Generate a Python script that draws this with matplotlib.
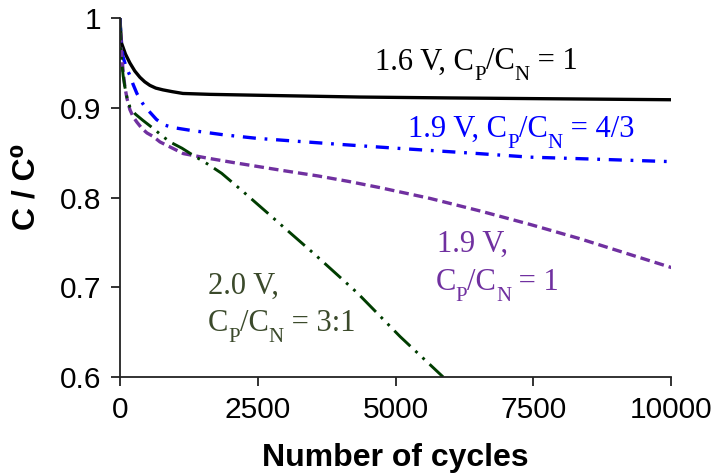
import matplotlib
matplotlib.use('Agg')
import matplotlib.pyplot as plt

# cycle-life data
cycles_16 = [0, 15, 30, 100, 181, 270, 363, 450, 544, 650, 780, 950, 1143, 1633, 2500, 4355, 6000, 8000, 10000]
cap_16 = [1.0, 0.985, 0.972, 0.960, 0.950, 0.941, 0.934, 0.929, 0.925, 0.922, 0.920, 0.918, 0.916, 0.915,
          0.914, 0.912, 0.911, 0.910, 0.909]

cycles_19b = [0, 20, 55, 110, 181, 240, 308, 380, 454, 560, 663, 800, 962, 1270, 1870, 2480, 3146, 4047,
              5000, 6500, 7441, 8500, 10000]
cap_19b = [1.0, 0.975, 0.957, 0.946, 0.936, 0.926, 0.916, 0.908, 0.901, 0.894, 0.887, 0.881, 0.878, 0.875,
           0.870, 0.866, 0.863, 0.859, 0.855, 0.849, 0.845, 0.843, 0.840]

cycles_19 = [0, 10, 30, 60, 91, 130, 181, 240, 308, 400, 490, 605, 726, 1149, 1579, 2057, 2964, 3600, 4144,
             4719, 5626, 6534, 7441, 8348, 10000]
cap_19 = [1.0, 0.985, 0.961, 0.940, 0.923, 0.910, 0.898, 0.890, 0.884, 0.877, 0.872, 0.868, 0.862, 0.849,
          0.844, 0.839, 0.830, 0.824, 0.818, 0.811, 0.799, 0.785, 0.770, 0.754, 0.722]

cycles_20 = [0, 10, 30, 60, 91, 130, 181, 280, 417, 605, 800, 938, 1125, 1331, 1600, 1845, 2208, 2692, 3025,
             3509, 4301, 5082, 5862]
cap_20 = [1.0, 0.975, 0.953, 0.935, 0.923, 0.911, 0.901, 0.893, 0.886, 0.877, 0.867, 0.861, 0.855, 0.847,
          0.837, 0.827, 0.808, 0.782, 0.764, 0.738, 0.694, 0.645, 0.6]

x_ticks = [0, 2500, 5000, 7500, 10000]
y_ticks = [0.6, 0.7, 0.8, 0.9, 1.0]
y_ticklabels = ['0.6', '0.7', '0.8', '0.9', '1']

plt.rcParams['font.family'] = ['Liberation Sans', 'DejaVu Sans']
plt.rcParams['lines.scale_dashes'] = False

fig = plt.figure(figsize=(7.18, 4.76), dpi=100)
ax = fig.add_axes([0.167, 0.208, 0.768, 0.754])

ax.plot(cycles_16, cap_16, color='black', lw=2.4, solid_joinstyle='round')
ax.plot(cycles_19b, cap_19b, color='#0000ff', lw=2.4, linestyle=(0, (9.4, 6.3, 2, 6.3)))
ax.plot(cycles_19, cap_19, color='#7030a0', lw=2.4, linestyle=(0, (7, 3.6)))
ax.plot(cycles_20, cap_20, color='#003d00', lw=2.1, linestyle=(0, (16, 5, 2, 5, 2, 5)))

ax.set_xlim(0, 10000)
ax.set_ylim(0.6, 1.0)
ax.set_xticks(x_ticks)
ax.set_xticklabels([str(t) for t in x_ticks])
ax.set_yticks(y_ticks)
ax.set_yticklabels(y_ticklabels)

for s in ['top', 'right']:
    ax.spines[s].set_visible(False)
for s in ['left', 'bottom']:
    ax.spines[s].set_linewidth(1.3)
    ax.spines[s].set_color('#222222')
ax.tick_params(direction='out', length=6.5, width=1.3, color='#222222',
               labelsize=21.5, pad=7)

ax.set_xlabel('Number of cycles', fontsize=23, fontweight='bold')
ax.set_ylabel('C / C\u2070', fontsize=23, fontweight='bold')
ax.xaxis.set_label_coords(0.5, -0.185)
ax.yaxis.set_label_coords(-0.143, 0.53)

SERIF = 'Liberation Serif'
BIG = 22
SMALL = 15
DROP = 6.5  # points the subscript sits below the main baseline


def label(x, y, before, after, color):
    # "<before>C_P/C_N<after>" with real lowered subscripts
    pieces = [(before + 'C', BIG, 0), ('P', SMALL, -DROP), ('/C', BIG, DROP),
              ('N', SMALL, -DROP), (after, BIG, DROP)]
    prev = ax.text(x, y, pieces[0][0], family=SERIF, fontsize=BIG, color=color,
                   va='bottom', ha='left')
    for txt, size, dy in pieces[1:]:
        prev = ax.annotate(txt, xy=(1, 0), xycoords=prev, xytext=(0, dy),
                           textcoords='offset points', family=SERIF, fontsize=size,
                           color=color, va='bottom', ha='left')


label(4628, 0.935, '1.6 V, ', ' = 1', 'black')
label(5227, 0.860, '1.9 V, ', ' = 4/3', '#0000ff')
ax.text(5750, 0.740, '1.9 V,', family=SERIF, fontsize=BIG, color='#7030a0', va='baseline')
label(5720, 0.689, '', ' = 1', '#7030a0')
ax.text(1597, 0.6925, '2.0 V,', family=SERIF, fontsize=BIG, color='#3b4a2b', va='baseline')
label(1597, 0.643, '', ' = 3:1', '#3b4a2b')

fig.savefig('out.png', dpi=100)
